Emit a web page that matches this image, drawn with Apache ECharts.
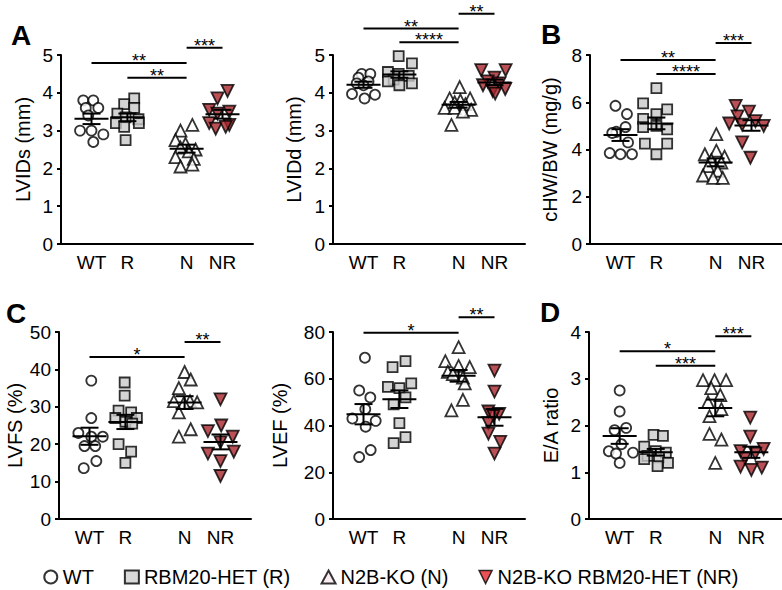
<!DOCTYPE html>
<html><head><meta charset="utf-8">
<script src="https://cdn.jsdelivr.net/npm/echarts@6/dist/echarts.min.js"></script>
<style>html,body{margin:0;padding:0;background:#fff}#c{width:782px;height:590px}</style>
</head><body><div id="c"></div>
<script>
// ---------- data ----------
const groups = ['WT', 'R', 'N', 'NR'];
const groupNames = ['WT', 'RBM20-HET (R)', 'N2B-KO (N)', 'N2B-KO RBM20-HET (NR)'];
const groupX = [1, 2, 3.65, 4.65];

// LVIDs (mm)
const lvidsValues = [
  [3.8, 3.8, 3.6, 3.6, 3.4, 3.0, 3.0, 2.9, 2.7],
  [3.85, 3.7, 3.6, 3.45, 3.35, 3.3, 3.2, 3.2, 3.1, 2.75],
  [3.15, 3.0, 2.75, 2.65, 2.55, 2.5, 2.45, 2.3, 2.25, 2.1, 2.05],
  [4.05, 3.85, 3.55, 3.5, 3.45, 3.2, 3.15, 3.05, 3.1]
];
const lvidsJitter = [
  [-0.23, 0.05, -0.16, 0.19, -0.09, -0.32, 0, 0.33, 0.05],
  [0.19, -0.09, 0.19, -0.28, -0.05, 0.31, -0.32, 0.32, -0.09, -0.05],
  [0.16, -0.17, -0.31, -0.03, -0.17, 0.25, 0.06, -0.31, 0.2, 0.16, -0.17],
  [0.14, -0.14, -0.37, 0.19, -0.14, -0.37, 0.19, -0.19, 0.09]
];
const lvidsSig = [['WT', 'N', 4.79, '**'], ['R', 'N', 4.40, '**'], ['N', 'NR', 5.19, '***']];

// LVIDd (mm)
const lviddValues = [
  [4.5, 4.5, 4.4, 4.3, 4.25, 4.2, 3.97, 3.95, 3.85],
  [4.97, 4.78, 4.55, 4.5, 4.45, 4.35, 4.3, 4.25, 4.2],
  [4.15, 3.85, 3.85, 3.8, 3.75, 3.7, 3.6, 3.6, 3.55, 3.5, 3.15],
  [4.6, 4.6, 4.4, 4.3, 4.25, 4.2, 4.1, 4.05, 3.98]
];
const lviddJitter = [
  [-0.05, 0.19, -0.14, 0.14, -0.19, 0, -0.32, 0.32, 0.03],
  [-0.02, 0.35, -0.32, -0.02, 0.26, -0.16, -0.32, 0.35, 0],
  [0.03, -0.25, 0.32, 0.05, -0.11, 0.19, -0.39, -0.11, 0.35, 0.12, -0.2],
  [-0.37, 0.31, 0.0, -0.19, 0.14, -0.32, 0.3, -0.05, 0.02]
];
const lviddSig = [['WT', 'N', 5.70, '**'], ['R', 'N', 5.34, '****'], ['N', 'NR', 6.09, '**']];

// cHW/BW (mg/g)
const chwValues = [
  [5.85, 5.5, 4.95, 4.75, 4.7, 4.3, 3.85, 3.8, 3.8],
  [6.6, 5.95, 5.7, 5.5, 5.3, 5.0, 4.95, 4.85, 4.25, 4.25, 3.8],
  [4.65, 3.95, 3.8, 3.7, 3.55, 3.45, 3.3, 3.1, 2.9, 2.8, 2.8],
  [5.85, 5.6, 5.4, 5.2, 5.1, 5.05, 5.0, 4.3, 3.65]
];
const chwJitter = [
  [-0.14, 0.18, 0.14, -0.12, -0.23, 0.21, -0.3, 0, 0.32],
  [0, -0.37, 0.3, 0, -0.37, 0, -0.37, 0.3, -0.32, 0.3, 0],
  [0.02, 0.02, -0.3, 0.25, -0.12, 0.16, -0.21, 0.06, -0.35, -0.07, 0.2],
  [-0.44, -0.07, -0.39, 0.11, -0.62, -0.26, 0.34, -0.26, -0.03]
];
const chwSig = [['WT', 'N', 7.79, '**'], ['R', 'N', 7.20, '****'], ['N', 'NR', 8.51, '***']];

// LVFS (%)
const lvfsValues = [
  [37, 27, 23, 22, 22, 19.5, 19.5, 15.5, 13.6],
  [36.5, 33, 29, 28.5, 27, 27, 26, 25.5, 20, 18, 15],
  [39.3, 37.3, 35, 31.5, 31.5, 31.2, 31, 28.5, 24, 22],
  [32, 25, 23.5, 22, 20.5, 18, 17.5, 15.5, 11.5]
];
const lvfsJitter = [
  [0.05, 0.05, -0.31, 0.05, 0.37, -0.14, 0.16, 0.19, -0.16],
  [-0.02, -0.02, -0.19, 0.16, -0.28, 0.32, 0, 0.19, -0.19, 0.16, 0],
  [0, 0.17, -0.16, 0.15, -0.3, 0.35, -0.02, -0.16, 0.17, -0.16],
  [0, 0.02, -0.35, 0.34, 0, 0.37, -0.35, 0, 0]
];
const lvfsSig = [['WT', 'N', 43.3, '*'], ['N', 'NR', 47.3, '**']];

// LVEF (%)
const lvefValues = [
  [69, 55, 52, 47, 43, 42, 39.5, 29.5, 26.5],
  [67.5, 65, 58, 56.5, 56, 52, 49, 41, 35, 32.5],
  [73.5, 67.5, 65.5, 65, 63, 62, 60.5, 58, 51, 46.5],
  [63.5, 54.5, 46, 45, 44, 41, 36.5, 33, 28]
];
const lvefJitter = [
  [0.04, -0.12, 0.19, 0.05, -0.31, 0.34, 0.06, 0.2, -0.12],
  [0.17, -0.19, 0.33, -0.32, 0, 0.17, -0.16, 0, 0.17, -0.16],
  [0, -0.37, 0, 0.31, -0.3, -0.16, 0.12, 0.17, 0.12, -0.2],
  [0, 0, -0.17, 0.13, -0.03, -0.17, -0.17, 0.16, 0]
];
const lvefSig = [['WT', 'N', 79.7, '*'], ['N', 'NR', 86.3, '**']];

// E/A ratio
const eaValues = [
  [2.75, 2.3, 1.95, 1.9, 1.6, 1.45, 1.42, 1.4, 1.2],
  [1.8, 1.78, 1.55, 1.45, 1.42, 1.35, 1.32, 1.28, 1.2, 1.13],
  [2.97, 2.97, 2.97, 2.8, 2.65, 2.5, 2.35, 2.2, 1.82, 1.7, 1.2],
  [2.17, 1.76, 1.5, 1.45, 1.4, 1.3, 1.12, 1.1, 1.05]
];
const eaJitter = [
  [0, 0, 0.18, -0.14, 0.05, -0.3, 0.37, -0.1, 0],
  [-0.06, 0.2, -0.32, 0, 0.28, -0.23, 0.09, -0.32, 0.34, 0.05],
  [-0.34, -0.02, 0.3, -0.11, 0.14, -0.2, 0.17, -0.16, -0.16, 0.17, 0],
  [-0.03, -0.03, 0.34, -0.3, 0.11, -0.18, -0.3, 0.29, 0]
];
const eaSig = [['WT', 'N', 3.59, '*'], ['R', 'N', 3.28, '***'], ['N', 'NR', 3.91, '***']];

// ---------- layout / style ----------
const FONT = '"Liberation Sans", Arial, Helvetica, sans-serif';
const panels = [
  { yName: 'LVIDs (mm)', values: lvidsValues, jitter: lvidsJitter, sig: lvidsSig, max: 5, interval: 1,
    grid: { left: 61, top: 55, width: 192, height: 189 }, nameGap: 28 },
  { yName: 'LVIDd (mm)', values: lviddValues, jitter: lviddJitter, sig: lviddSig, max: 5, interval: 1,
    grid: { left: 333, top: 55, width: 192, height: 189 }, nameGap: 29 },
  { yName: 'cHW/BW (mg/g)', values: chwValues, jitter: chwJitter, sig: chwSig, max: 8, interval: 2,
    grid: { left: 590, top: 55, width: 192, height: 189 }, nameGap: 30 },
  { yName: 'LVFS (%)', values: lvfsValues, jitter: lvfsJitter, sig: lvfsSig, max: 50, interval: 10,
    grid: { left: 59, top: 332, width: 192, height: 187 }, nameGap: 34 },
  { yName: 'LVEF (%)', values: lvefValues, jitter: lvefJitter, sig: lvefSig, max: 80, interval: 20,
    grid: { left: 333, top: 332, width: 192, height: 187 }, nameGap: 43 },
  { yName: 'E/A ratio', values: eaValues, jitter: eaJitter, sig: eaSig, max: 4, interval: 1,
    grid: { left: 589, top: 332, width: 193, height: 187 }, nameGap: 28 }
];
const markerStyles = [
  { symbol: 'circle', symbolSize: 10, symbolRotate: 0, itemStyle: { color: '#ffffff', borderColor: '#000', borderWidth: 1.8 } },
  { symbol: 'rect', symbolSize: 10, symbolRotate: 0, itemStyle: { color: '#c9c9c9', borderColor: '#000', borderWidth: 1.8 } },
  { symbol: 'triangle', symbolSize: 12, symbolRotate: 0, itemStyle: { color: '#ffffff', borderColor: '#000', borderWidth: 1.8 } },
  { symbol: 'triangle', symbolSize: 12, symbolRotate: 180, itemStyle: { color: '#a8242c', borderColor: '#000', borderWidth: 1.8 } }
];
const panelLetters = [
  { text: 'A', x: 21, y: 35 }, { text: 'B', x: 551, y: 34 },
  { text: 'C', x: 16, y: 313 }, { text: 'D', x: 550, y: 312 }
];

function meanSem(arr) {
  const n = arr.length;
  const m = arr.reduce((a, b) => a + b, 0) / n;
  const sd = Math.sqrt(arr.reduce((a, b) => a + (b - m) * (b - m), 0) / (n - 1));
  return [m, sd / Math.sqrt(n)];
}

const grid = [], xAxis = [], yAxis = [], series = [];
panels.forEach((p, i) => {
  grid.push(Object.assign({ containLabel: false }, p.grid));
  xAxis.push({
    type: 'value', gridIndex: i, min: 0.15, max: 5.5,
    axisLine: { show: true, onZero: false, lineStyle: { color: '#000', width: 2 } },
    axisTick: { show: false }, splitLine: { show: false },
    axisLabel: {
      customValues: groupX,
      formatter: v => { const k = groupX.indexOf(v); return k >= 0 ? groups[k] : ''; },
      fontSize: 19, color: '#000', margin: 9, fontFamily: FONT
    }
  });
  yAxis.push({
    type: 'value', gridIndex: i, min: 0, max: p.max, interval: p.interval,
    name: p.yName, nameLocation: 'middle', nameGap: p.nameGap,
    nameTextStyle: { fontSize: 20, color: '#000', fontFamily: FONT },
    axisLine: { show: true, onZero: false, lineStyle: { color: '#000', width: 2 } },
    axisTick: { show: true, length: 4, lineStyle: { color: '#000', width: 2 } },
    axisLabel: { fontSize: 19, color: '#000', margin: 8, fontFamily: FONT },
    splitLine: { show: false }
  });
  groups.forEach((g, gi) => {
    const ms = markerStyles[gi];
    series.push({
      type: 'scatter', name: groupNames[gi], xAxisIndex: i, yAxisIndex: i,
      symbol: ms.symbol, symbolSize: ms.symbolSize, symbolRotate: ms.symbolRotate,
      itemStyle: ms.itemStyle, z: 2, silent: true,
      data: p.values[gi].map((v, k) => [groupX[gi] + p.jitter[gi][k], v])
    });
  });
  // mean +/- SEM
  series.push({
    type: 'custom', xAxisIndex: i, yAxisIndex: i, z: 5, silent: true, clip: false,
    encode: { x: 0, y: 1 },
    data: groups.map((g, gi) => { const r = meanSem(p.values[gi]); return [groupX[gi], r[0], r[1]]; }),
    renderItem: (params, api) => {
      const x = api.value(0), m = api.value(1), s = api.value(2);
      const c = api.coord([x, m]), t = api.coord([x, m + s]), b = api.coord([x, m - s]);
      const st = { stroke: '#000', lineWidth: 2, fill: null };
      return { type: 'group', children: [
        { type: 'line', shape: { x1: c[0] - 17, y1: c[1], x2: c[0] + 17, y2: c[1] }, style: st },
        { type: 'line', shape: { x1: c[0], y1: t[1], x2: c[0], y2: b[1] }, style: st },
        { type: 'line', shape: { x1: c[0] - 9, y1: t[1], x2: c[0] + 9, y2: t[1] }, style: st },
        { type: 'line', shape: { x1: c[0] - 9, y1: b[1], x2: c[0] + 9, y2: b[1] }, style: st }
      ] };
    }
  });
  // significance brackets
  series.push({
    type: 'custom', xAxisIndex: i, yAxisIndex: i, z: 5, silent: true, clip: false,
    encode: { x: [0, 1], y: 2 },
    data: p.sig.map(s => [groupX[groups.indexOf(s[0])], groupX[groups.indexOf(s[1])], s[2]]),
    renderItem: (params, api) => {
      const a = api.coord([api.value(0), api.value(2)]);
      const b = api.coord([api.value(1), api.value(2)]);
      const label = p.sig[params.dataIndex][3];
      return { type: 'group', children: [
        { type: 'line', shape: { x1: a[0], y1: a[1], x2: b[0], y2: b[1] }, style: { stroke: '#000', lineWidth: 2 } },
        { type: 'text', x: (a[0] + b[0]) / 2, y: a[1] - 2,
          style: { text: label, fill: '#000', fontSize: 18, fontFamily: FONT, align: 'center', verticalAlign: 'middle' } }
      ] };
    }
  });
});

const option = {
  backgroundColor: '#ffffff',
  animation: false,
  grid, xAxis, yAxis, series,
  legend: {
    top: 562, left: 'center', itemWidth: 14, itemHeight: 13, itemGap: 30,
    selectedMode: false,
    textStyle: { fontSize: 20, color: '#000', fontFamily: FONT },
    data: [
      { name: groupNames[0], icon: 'circle', itemStyle: { color: '#ffffff', borderColor: '#000', borderWidth: 2 } },
      { name: groupNames[1], icon: 'rect', itemStyle: { color: '#cfcfcf', borderColor: '#000', borderWidth: 2 } },
      { name: groupNames[2], icon: 'triangle', itemStyle: { color: '#fbeaec', borderColor: '#000', borderWidth: 2 } },
      { name: groupNames[3], icon: 'path://M0,0L10,0L5,10Z', itemStyle: { color: '#e3262b', borderColor: '#000', borderWidth: 1.5 } }
    ]
  },
  graphic: panelLetters.map(l => ({
    type: 'text', x: l.x, y: l.y,
    style: { text: l.text, fontSize: 28, fontWeight: 'bold', fontFamily: FONT, fill: '#000', align: 'center', verticalAlign: 'middle' }
  }))
};

const chart = echarts.init(document.getElementById('c'), null, { renderer: 'svg' });
chart.setOption(option);
</script>
</body></html>
